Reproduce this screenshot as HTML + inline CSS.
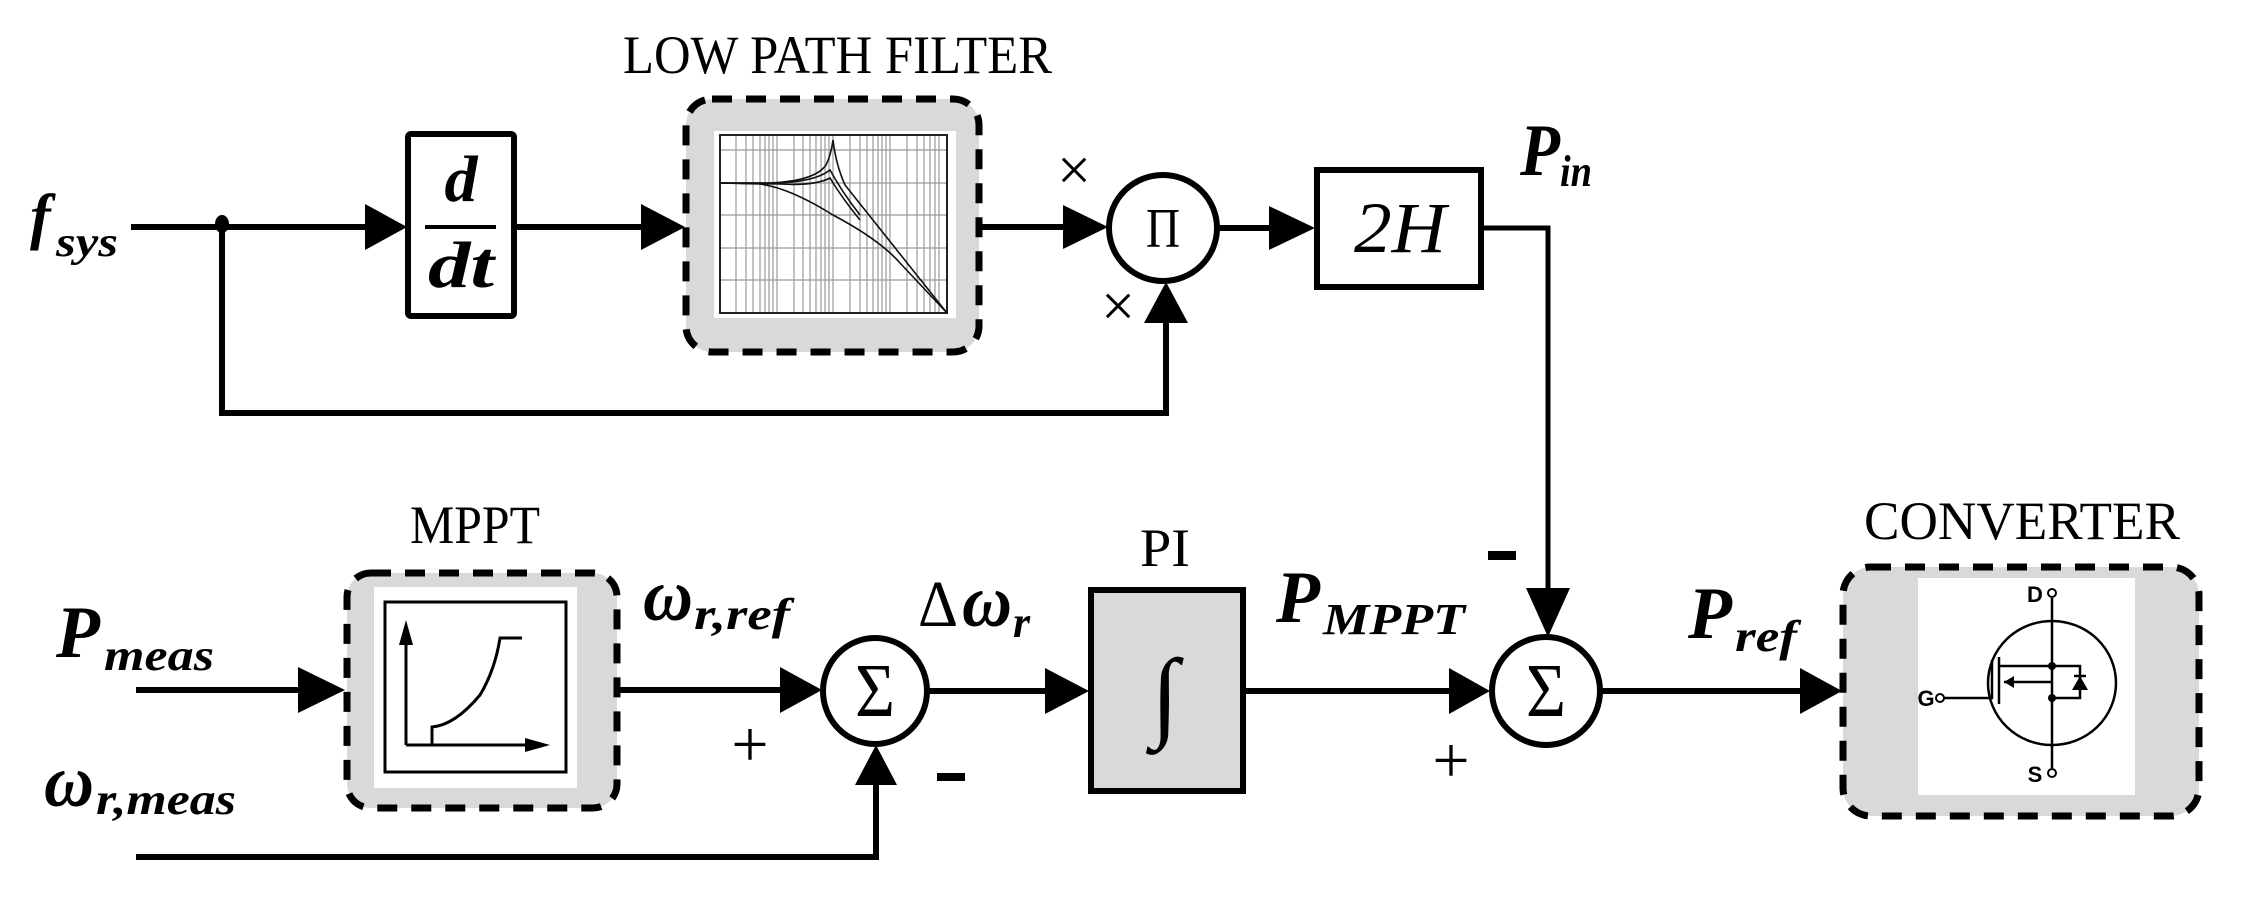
<!DOCTYPE html>
<html><head><meta charset="utf-8"><style>
html,body{margin:0;padding:0;background:#fff;}
svg{display:block;}
.t{font-family:"Liberation Serif",serif;}
.bi{font-family:"Liberation Serif",serif;font-weight:bold;font-style:italic;}
</style></head><body>
<svg width="2244" height="897" viewBox="0 0 2244 897" xmlns="http://www.w3.org/2000/svg">
<g stroke="#000" stroke-width="6" fill="none" stroke-linecap="square">
<line x1="134" y1="227" x2="370" y2="227"/>
<line x1="515" y1="227" x2="645" y2="227"/>
<line x1="979" y1="227" x2="1066" y2="227"/>
<line x1="1219" y1="228" x2="1272" y2="228"/>
<polyline points="1482,228 1548,228 1548,592" stroke-width="5"/>
<polyline points="222,227 222,413 1166,413 1166,320"/>
<line x1="139" y1="690" x2="300" y2="690"/>
<line x1="617" y1="690" x2="784" y2="690"/>
<line x1="927" y1="691" x2="1048" y2="691"/>
<line x1="1244" y1="691" x2="1452" y2="691"/>
<line x1="1602" y1="691" x2="1803" y2="691"/>
<polyline points="139,857 876,857 876,788"/>
</g>
<g fill="#000">
<polygon points="365,204 407,227 365,250"/>
<polygon points="641,204 685,227 641,250"/>
<polygon points="1063,205 1108,227 1063,249"/>
<polygon points="1269,206 1315,228 1269,250"/>
<polygon points="1144,323 1166,282 1188,323"/>
<polygon points="298,667 345,690 298,713"/>
<polygon points="780,667 822,690 780,713"/>
<polygon points="1045,668 1089,691 1045,714"/>
<polygon points="1449,668 1490,691 1449,714"/>
<polygon points="1800,668 1842,691 1800,714"/>
<polygon points="855,785 876,745 897,785"/>
<polygon points="1526,588 1548,637 1570,588"/>
<ellipse cx="222" cy="224" rx="7" ry="9"/>
</g>
<!-- d/dt box -->
<rect x="408" y="134" width="106" height="182" rx="3" fill="#fff" stroke="#000" stroke-width="6"/>
<text x="461" y="201" class="bi" font-size="66" text-anchor="middle">d</text>
<line x1="425" y1="227" x2="496" y2="227" stroke="#000" stroke-width="4"/>
<text x="461" y="287" class="bi" font-size="66" text-anchor="middle" textLength="66" lengthAdjust="spacingAndGlyphs">dt</text>
<!-- filter -->
<rect x="686" y="99" width="293" height="253" rx="26" fill="#d9d9d9" stroke="#000" stroke-width="7" stroke-dasharray="20 14"/>
<rect x="714" y="131" width="242" height="187" fill="#fff"/>
<g stroke="#999" stroke-width="1.2">
<line x1="720" y1="150" x2="947" y2="150"/><line x1="720" y1="183" x2="947" y2="183"/><line x1="720" y1="215" x2="947" y2="215"/><line x1="720" y1="248" x2="947" y2="248"/><line x1="720" y1="280" x2="947" y2="280"/>
<line x1="736" y1="135" x2="736" y2="313"/><line x1="746" y1="135" x2="746" y2="313"/><line x1="753" y1="135" x2="753" y2="313"/><line x1="760" y1="135" x2="760" y2="313"/><line x1="765" y1="135" x2="765" y2="313"/><line x1="769" y1="135" x2="769" y2="313"/><line x1="773" y1="135" x2="773" y2="313"/><line x1="777" y1="135" x2="777" y2="313"/>
<line x1="794" y1="135" x2="794" y2="313"/><line x1="803" y1="135" x2="803" y2="313"/><line x1="810" y1="135" x2="810" y2="313"/><line x1="816" y1="135" x2="816" y2="313"/><line x1="821" y1="135" x2="821" y2="313"/><line x1="825" y1="135" x2="825" y2="313"/><line x1="829" y1="135" x2="829" y2="313"/><line x1="833" y1="135" x2="833" y2="313"/>
<line x1="850" y1="135" x2="850" y2="313"/><line x1="860" y1="135" x2="860" y2="313"/><line x1="867" y1="135" x2="867" y2="313"/><line x1="873" y1="135" x2="873" y2="313"/><line x1="878" y1="135" x2="878" y2="313"/><line x1="882" y1="135" x2="882" y2="313"/><line x1="886" y1="135" x2="886" y2="313"/><line x1="890" y1="135" x2="890" y2="313"/>
<line x1="907" y1="135" x2="907" y2="313"/><line x1="917" y1="135" x2="917" y2="313"/><line x1="924" y1="135" x2="924" y2="313"/><line x1="930" y1="135" x2="930" y2="313"/><line x1="935" y1="135" x2="935" y2="313"/><line x1="939" y1="135" x2="939" y2="313"/>
</g>
<rect x="720" y="135" width="227" height="178" fill="none" stroke="#222" stroke-width="2"/>
<g fill="none" stroke="#111" stroke-width="1.6">
<path d="M720,183 L770,183 Q815,181 826,165 Q831,155 833,140 Q836,165 845,185 L947,313"/>
<path d="M720,183 L775,183 Q815,182 830,170 Q842,192 860,215"/>
<path d="M720,183 L780,184 Q815,186 830,178 Q842,198 860,220"/>
<path d="M720,183 L760,184 Q790,188 833,215 Q880,240 900,263 L947,313"/>
</g>
<!-- Pi circle -->
<ellipse cx="1163" cy="228" rx="54" ry="53" fill="#fff" stroke="#000" stroke-width="6"/>
<text x="1163" y="247" class="t" font-size="56" text-anchor="middle" textLength="34" lengthAdjust="spacingAndGlyphs">Π</text>
<text x="1074" y="190" class="t" font-size="60" text-anchor="middle">×</text>
<text x="1118" y="326" class="t" font-size="60" text-anchor="middle">×</text>
<!-- 2H -->
<rect x="1317" y="170" width="164" height="117" fill="#fff" stroke="#000" stroke-width="6"/>
<text x="1400" y="252" font-family="Liberation Serif,serif" font-style="italic" font-size="72" text-anchor="middle" textLength="92" lengthAdjust="spacingAndGlyphs">2H</text>
<!-- MPPT -->
<rect x="347" y="573" width="270" height="235" rx="24" fill="#d9d9d9" stroke="#000" stroke-width="7" stroke-dasharray="20 14"/>
<rect x="374" y="587" width="203" height="201" fill="#fff"/>
<rect x="385" y="602" width="181" height="170" fill="none" stroke="#000" stroke-width="3"/>
<g stroke="#000" stroke-width="3" fill="none">
<line x1="406" y1="745" x2="406" y2="640"/>
<line x1="406" y1="745" x2="535" y2="745"/>
<path d="M432,745 L432,727 Q455,725 480,695 Q495,670 500,638 L522,638"/>
</g>
<polygon points="399,645 406,620 413,645" fill="#000"/>
<polygon points="525,738 550,745 525,752" fill="#000"/>
<!-- sum 1 -->
<ellipse cx="875" cy="691" rx="52" ry="53" fill="#fff" stroke="#000" stroke-width="6"/>
<text x="875" y="716" class="t" font-size="76" text-anchor="middle" textLength="40" lengthAdjust="spacingAndGlyphs">Σ</text>
<text x="750" y="766" class="t" font-size="66" text-anchor="middle">+</text>
<rect x="937" y="773" width="28" height="8" fill="#000"/>
<!-- PI -->
<rect x="1091" y="590" width="152" height="201" fill="#d9d9d9" stroke="#000" stroke-width="6"/>
<text x="1165" y="728" class="t" font-size="100" text-anchor="middle" font-style="italic">∫</text>
<text x="1165" y="566" class="t" font-size="54" text-anchor="middle" textLength="50" lengthAdjust="spacingAndGlyphs">PI</text>
<!-- sum 2 -->
<ellipse cx="1546" cy="691" rx="54" ry="54" fill="#fff" stroke="#000" stroke-width="6"/>
<text x="1546" y="716" class="t" font-size="76" text-anchor="middle" textLength="40" lengthAdjust="spacingAndGlyphs">Σ</text>
<text x="1451" y="782" class="t" font-size="66" text-anchor="middle">+</text>
<rect x="1488" y="551" width="28" height="9" fill="#000"/>
<!-- converter -->
<rect x="1843" y="567" width="356" height="249" rx="28" fill="#d9d9d9" stroke="#000" stroke-width="7" stroke-dasharray="20 14"/>
<rect x="1918" y="578" width="217" height="217" fill="#fff"/>
<g stroke="#000" stroke-width="2.5" fill="none">
<ellipse cx="2052" cy="683" rx="64" ry="62"/>
<line x1="2052" y1="598" x2="2052" y2="768"/>
<polyline points="1944,698 1992,698 1992,660"/>
<line x1="1999" y1="657" x2="1999" y2="704"/>
<polyline points="1999,666 2052,666 2080,666 2080,698 2052,698"/>
<line x1="2004" y1="682" x2="2052" y2="682"/>
<line x1="2074" y1="676" x2="2086" y2="676"/>
</g>
<circle cx="2052" cy="593" r="4" fill="#fff" stroke="#000" stroke-width="2"/>
<circle cx="2052" cy="773" r="4" fill="#fff" stroke="#000" stroke-width="2"/>
<circle cx="1940" cy="698" r="4" fill="#fff" stroke="#000" stroke-width="2"/>
<circle cx="2052" cy="666" r="4" fill="#000"/><circle cx="2052" cy="698" r="4" fill="#000"/>
<polygon points="2004,682 2014,676 2014,688" fill="#000"/>
<polygon points="2072,690 2080,676 2088,690" fill="#000"/>
<text x="2035" y="602" font-family="Liberation Sans,sans-serif" font-weight="bold" font-size="22" text-anchor="middle">D</text>
<text x="2035" y="782" font-family="Liberation Sans,sans-serif" font-weight="bold" font-size="22" text-anchor="middle">S</text>
<text x="1926" y="706" font-family="Liberation Sans,sans-serif" font-weight="bold" font-size="22" text-anchor="middle">G</text>
<!-- titles -->
<text x="623" y="73" class="t" font-size="54" textLength="429" lengthAdjust="spacingAndGlyphs">LOW PATH FILTER</text>
<text x="410" y="543" class="t" font-size="54" textLength="130" lengthAdjust="spacingAndGlyphs">MPPT</text>
<text x="1864" y="539" class="t" font-size="54" textLength="316" lengthAdjust="spacingAndGlyphs">CONVERTER</text>
<!-- labels -->
<text x="30" y="237" class="bi" font-size="62">f</text><text x="56" y="256" class="bi" font-size="42" textLength="62" lengthAdjust="spacingAndGlyphs">sys</text>
<text x="1520" y="175" class="bi" font-size="74" textLength="40" lengthAdjust="spacingAndGlyphs">P</text><text x="1560" y="186" class="bi" font-size="44" textLength="32" lengthAdjust="spacingAndGlyphs">in</text>
<text x="56" y="657" class="bi" font-size="74" textLength="44" lengthAdjust="spacingAndGlyphs">P</text><text x="104" y="670" class="bi" font-size="44" textLength="110" lengthAdjust="spacingAndGlyphs">meas</text>
<text x="44" y="806" class="bi" font-size="74" textLength="50" lengthAdjust="spacingAndGlyphs">ω</text><text x="96" y="814" class="bi" font-size="44" textLength="140" lengthAdjust="spacingAndGlyphs">r,meas</text>
<text x="643" y="620" class="bi" font-size="74" textLength="50" lengthAdjust="spacingAndGlyphs">ω</text><text x="694" y="629" class="bi" font-size="44" textLength="96" lengthAdjust="spacingAndGlyphs">r,ref</text>
<text x="918" y="626" font-family="Liberation Serif,serif" font-size="66" textLength="40" lengthAdjust="spacingAndGlyphs">Δ</text><text x="962" y="626" class="bi" font-size="74" textLength="50" lengthAdjust="spacingAndGlyphs">ω</text><text x="1013" y="637" class="bi" font-size="44">r</text>
<text x="1276" y="622" class="bi" font-size="74" textLength="44" lengthAdjust="spacingAndGlyphs">P</text><text x="1323" y="634" class="bi" font-size="44" textLength="142" lengthAdjust="spacingAndGlyphs">MPPT</text>
<text x="1688" y="638" class="bi" font-size="74" textLength="44" lengthAdjust="spacingAndGlyphs">P</text><text x="1735" y="651" class="bi" font-size="44" textLength="62" lengthAdjust="spacingAndGlyphs">ref</text>
</svg>
</body></html>
